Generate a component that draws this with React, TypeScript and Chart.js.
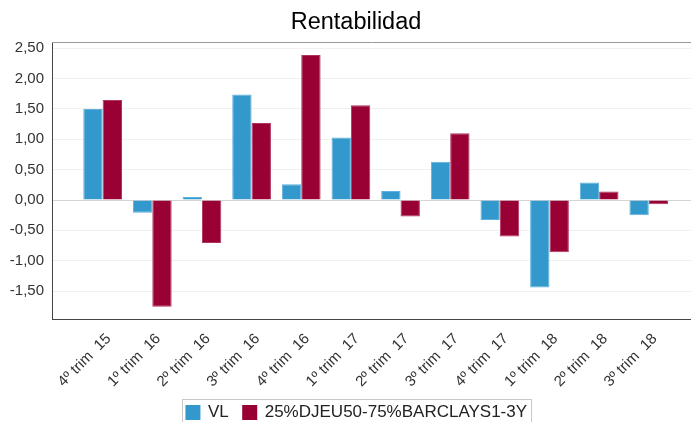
import React, { useEffect, useRef } from 'react';
import { Chart, registerables } from 'chart.js';

Chart.register(...registerables);

const FONT = '"Liberation Sans", Arial, sans-serif';
const TITLE = 'Rentabilidad';

const categories = [
  '4º trim  15', '1º trim  16', '2º trim  16', '3º trim  16', '4º trim  16', '1º trim  17',
  '2º trim  17', '3º trim  17', '4º trim  17', '1º trim  18', '2º trim  18', '3º trim  18',
];
const vlValues = [1.5, -0.21, 0.05, 1.74, 0.26, 1.03, 0.15, 0.63, -0.33, -1.44, 0.29, -0.25];
const benchValues = [1.65, -1.76, -0.71, 1.27, 2.39, 1.56, -0.27, 1.1, -0.6, -0.86, 0.14, -0.07];
const yTicks = [-1.5, -1, -0.5, 0, 0.5, 1, 1.5, 2, 2.5];
const seriesNames = ['VL', '25%DJEU50-75%BARCLAYS1-3Y'];
const seriesColors = ['#3399cc', '#990033'];
const seriesBorders = ['#5fb0dc', '#b0345e'];

const decorPlugin = {
  id: 'decor',
  afterDraw(chart: any) {
    const { ctx, chartArea } = chart;
    ctx.save();
    // top frame line
    ctx.strokeStyle = '#999999';
    ctx.lineWidth = 1;
    ctx.beginPath();
    ctx.moveTo(chartArea.left, chartArea.top + 0.5);
    ctx.lineTo(chartArea.right, chartArea.top + 0.5);
    ctx.stroke();
    // title
    ctx.fillStyle = '#000000';
    ctx.font = `23.5px ${FONT}`;
    ctx.textAlign = 'center';
    ctx.textBaseline = 'alphabetic';
    ctx.fillText(TITLE, 356, 28.5);
    // legend
    ctx.font = `17px ${FONT}`;
    ctx.textAlign = 'left';
    const sw = 15, gapText = 7.5, gapItem = 13.5, padL = 3.5, padR = 4;
    const widths = seriesNames.map((n) => ctx.measureText(n).width);
    const total = padL + widths.reduce((a, w) => a + sw + gapText + w, 0) + gapItem * (seriesNames.length - 1) + padR;
    const left = 356.5 - total / 2;
    ctx.strokeStyle = '#c8c8c8';
    ctx.strokeRect(Math.round(left) + 0.5, 399.5, Math.round(total), 30);
    let x = left + padL;
    seriesNames.forEach((n, i) => {
      ctx.fillStyle = seriesColors[i];
      ctx.fillRect(x, 405, sw, sw);
      x += sw + gapText;
      ctx.fillStyle = '#222222';
      ctx.textBaseline = 'middle';
      ctx.fillText(n, x, 412.5);
      x += widths[i] + gapItem;
    });
    ctx.restore();
  },
};

export default function App() {
  const canvasRef = useRef<HTMLCanvasElement>(null);

  useEffect(() => {
    document.body.style.margin = '0';
    const canvas = canvasRef.current;
    if (!canvas) return;
    const chart = new Chart(canvas, {
      type: 'bar',
      data: {
        datasets: [
          {
            label: seriesNames[0],
            data: vlValues.map((y, x) => ({ x, y })),
            backgroundColor: seriesColors[0],
            borderColor: seriesBorders[0],
            borderWidth: 1,
          },
          {
            label: seriesNames[1],
            data: benchValues.map((y, x) => ({ x, y })),
            backgroundColor: seriesColors[1],
            borderColor: seriesBorders[1],
            borderWidth: 1,
          },
        ],
      },
      options: {
        animation: false,
        responsive: false,
        maintainAspectRatio: false,
        layout: { padding: { top: 42, left: 0, right: 0, bottom: 0 } },
        datasets: { bar: { categoryPercentage: 0.78, barPercentage: 1.0 } },
        plugins: {
          legend: { display: false },
          title: { display: false },
          tooltip: { enabled: false },
        },
        scales: {
          x: {
            type: 'linear',
            offset: false,
            min: -1.02,
            max: 11.85,
            afterFit: (scale: any) => { scale.height = 103; },
            afterBuildTicks: (scale: any) => {
              scale.ticks = categories.map((_, i) => ({ value: i }));
            },
            grid: { display: true, drawOnChartArea: false, drawTicks: false, offset: false },
            border: { display: true, color: '#444444', width: 1 },
            ticks: {
              autoSkip: false,
              minRotation: 45,
              maxRotation: 45,
              padding: 11,
              labelOffset: 6,
              color: '#333333',
              font: { family: FONT, size: 15 },
              callback: (v: any) => categories[Number(v)] ?? '',
            },
          },
          y: {
            min: -1.961,
            max: 2.604,
            afterFit: (scale: any) => { scale.width = 52; },
            afterBuildTicks: (scale: any) => {
              scale.ticks = yTicks.map((v) => ({ value: v }));
            },
            grid: {
              drawTicks: false,
              color: (ctx: any) => (ctx.tick && ctx.tick.value === 0 ? '#d4d4d4' : '#f0f0f0'),
            },
            border: { display: true, color: '#444444', width: 1 },
            ticks: {
              padding: 8,
              color: '#333333',
              font: { family: FONT, size: 15 },
              callback: (v: any) => Number(v).toFixed(2).replace('.', ','),
            },
          },
        },
      },
      plugins: [decorPlugin],
    });
    return () => chart.destroy();
  }, []);

  return (
    <div style={{ width: 691, height: 422, background: '#ffffff' }}>
      <canvas ref={canvasRef} width={691} height={422} style={{ display: 'block' }} />
    </div>
  );
}
